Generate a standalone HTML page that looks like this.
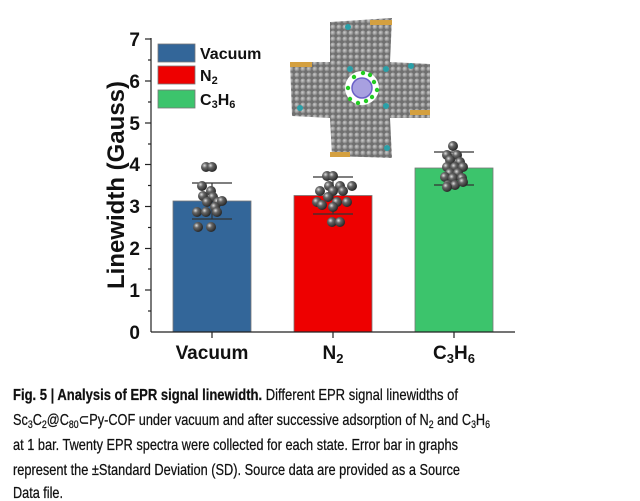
<!DOCTYPE html>
<html><head><meta charset="utf-8"><style>
html,body{margin:0;padding:0;background:#fff;}
svg{display:block;}
</style></head><body>
<svg width="640" height="501" viewBox="0 0 640 501" xmlns="http://www.w3.org/2000/svg" font-family="Liberation Sans, sans-serif">
<defs>
<radialGradient id="ball" cx="0.35" cy="0.35" r="0.7">
<stop offset="0" stop-color="#e0e0e0"/><stop offset="0.35" stop-color="#666"/><stop offset="1" stop-color="#222"/>
</radialGradient>
<radialGradient id="gb" cx="0.4" cy="0.4" r="0.7">
<stop offset="0" stop-color="#ccc"/><stop offset="1" stop-color="#707070"/>
</radialGradient>
<pattern id="atoms" width="6" height="6" patternUnits="userSpaceOnUse">
<rect width="6" height="6" fill="#6f6f6f"/><circle cx="3" cy="3" r="2.6" fill="url(#gb)"/>
</pattern>
</defs>
<g>
<polygon points="330,22 392,18 390,62 430,64 430,118 390,118 392,158 332,156 330,118 292,116 290,62 330,62" fill="url(#atoms)"/>
<rect x="290" y="62" width="22" height="5" fill="#d4a040"/>
<rect x="370" y="20" width="22" height="5" fill="#d4a040"/>
<rect x="410" y="110" width="20" height="5" fill="#d4a040"/>
<rect x="330" y="152" width="20" height="5" fill="#d4a040"/>
<circle cx="348" cy="27" r="3" fill="#2aa0a8"/><circle cx="411" cy="66" r="3" fill="#2aa0a8"/>
<circle cx="386" cy="69" r="3" fill="#2aa0a8"/><circle cx="350" cy="69" r="3" fill="#2aa0a8"/>
<circle cx="300" cy="108" r="3" fill="#2aa0a8"/><circle cx="386" cy="106" r="3" fill="#2aa0a8"/>
<circle cx="387" cy="148" r="3" fill="#2aa0a8"/>
<circle cx="362" cy="88" r="17" fill="#fff"/>
<circle cx="362" cy="88" r="10" fill="#a8a0e0" stroke="#6a60c8" stroke-width="1.5"/>
<g fill="#22cc22">
<circle cx="363" cy="73" r="2.2"/><circle cx="370" cy="75" r="2.2"/><circle cx="374" cy="82" r="2.2"/><circle cx="377" cy="90" r="2.2"/><circle cx="372" cy="97" r="2.2"/><circle cx="366" cy="101" r="2.2"/><circle cx="358" cy="103" r="2.2"/><circle cx="350" cy="99" r="2.2"/><circle cx="348" cy="88" r="2.2"/><circle cx="354" cy="77" r="2.2"/>
</g>
</g>
<rect x="173" y="201" width="78" height="131" fill="#336699" stroke="#777" stroke-width="0.8"/>
<rect x="294" y="195.5" width="78" height="136.5" fill="#ee0000" stroke="#777" stroke-width="0.8"/>
<rect x="415" y="168" width="78" height="164" fill="#3cc46c" stroke="#777" stroke-width="0.8"/>
<g stroke="#333" stroke-width="1.2">
<line x1="192" y1="183" x2="232" y2="183"/><line x1="192" y1="219" x2="232" y2="219"/><line x1="212" y1="183" x2="212" y2="219"/>
<line x1="313" y1="177" x2="353" y2="177"/><line x1="313" y1="214" x2="353" y2="214"/><line x1="333" y1="177" x2="333" y2="214"/>
<line x1="434" y1="152" x2="474" y2="152"/><line x1="434" y1="185" x2="474" y2="185"/><line x1="454" y1="152" x2="454" y2="185"/>
</g>
<g fill="url(#ball)">
<circle cx="206" cy="167" r="5"/><circle cx="212" cy="167" r="5"/><circle cx="202" cy="186" r="5"/><circle cx="211" cy="191" r="5"/><circle cx="203" cy="196" r="5"/><circle cx="213" cy="197" r="5"/><circle cx="207" cy="202" r="5"/><circle cx="218" cy="202" r="5"/><circle cx="215" cy="207" r="5"/><circle cx="197" cy="212" r="5"/><circle cx="206" cy="212" r="5"/><circle cx="217" cy="212" r="5"/><circle cx="198" cy="227" r="5"/><circle cx="211" cy="227" r="5"/><circle cx="222" cy="201" r="5"/>
<circle cx="327" cy="176" r="5"/><circle cx="333" cy="176" r="5"/><circle cx="329" cy="186" r="5"/><circle cx="340" cy="186" r="5"/><circle cx="352" cy="186" r="5"/><circle cx="320" cy="191" r="5"/><circle cx="333" cy="191" r="5"/><circle cx="343" cy="191" r="5"/><circle cx="328" cy="197" r="5"/><circle cx="317" cy="202" r="5"/><circle cx="337" cy="202" r="5"/><circle cx="347" cy="202" r="5"/><circle cx="333" cy="207" r="5"/><circle cx="332" cy="222" r="5"/><circle cx="340" cy="222" r="5"/><circle cx="322" cy="205" r="5"/>
<circle cx="453" cy="146" r="5"/><circle cx="447" cy="155" r="5"/><circle cx="457" cy="155" r="5"/><circle cx="450" cy="160" r="5"/><circle cx="460" cy="162" r="5"/><circle cx="447" cy="167" r="5"/><circle cx="455" cy="167" r="5"/><circle cx="463" cy="167" r="5"/><circle cx="450" cy="173" r="5"/><circle cx="458" cy="173" r="5"/><circle cx="445" cy="177" r="5"/><circle cx="453" cy="178" r="5"/><circle cx="462" cy="178" r="5"/><circle cx="448" cy="185" r="5"/><circle cx="455" cy="185" r="5"/><circle cx="463" cy="182" r="5"/><circle cx="447" cy="187" r="5"/>
</g>
<g stroke="#222" stroke-width="1.2" fill="none">
<line x1="151" y1="38" x2="151" y2="332"/>
<line x1="151" y1="332" x2="515" y2="332"/>
<line x1="145" y1="39" x2="151" y2="39"/><line x1="145" y1="81" x2="151" y2="81"/><line x1="145" y1="123" x2="151" y2="123"/><line x1="145" y1="164.5" x2="151" y2="164.5"/><line x1="145" y1="206.5" x2="151" y2="206.5"/><line x1="145" y1="248.5" x2="151" y2="248.5"/><line x1="145" y1="290" x2="151" y2="290"/>
<line x1="148" y1="60" x2="151" y2="60"/><line x1="148" y1="102" x2="151" y2="102"/><line x1="148" y1="144" x2="151" y2="144"/><line x1="148" y1="185.5" x2="151" y2="185.5"/><line x1="148" y1="227.5" x2="151" y2="227.5"/><line x1="148" y1="269" x2="151" y2="269"/><line x1="148" y1="311" x2="151" y2="311"/>
<line x1="212" y1="332" x2="212" y2="338"/><line x1="333" y1="332" x2="333" y2="338"/><line x1="454" y1="332" x2="454" y2="338"/>
</g>
<g font-size="19" font-weight="bold" fill="#111" text-anchor="end">
<text x="140" y="46">7</text><text x="140" y="88">6</text><text x="140" y="130">5</text><text x="140" y="171">4</text><text x="140" y="213">3</text><text x="140" y="255">2</text><text x="140" y="297">1</text><text x="140" y="339">0</text>
</g>
<g font-size="19" font-weight="bold" fill="#111" text-anchor="middle">
<text x="212" y="359">Vacuum</text>
<text x="333" y="359">N<tspan font-size="13" dy="4">2</tspan></text>
<text x="454" y="359">C<tspan font-size="13" dy="4">3</tspan><tspan dy="-4">H</tspan><tspan font-size="13" dy="4">6</tspan></text>
</g>
<text transform="translate(124,185) rotate(-90)" font-size="24" font-weight="bold" text-anchor="middle" fill="#111">Linewidth (Gauss)</text>
<rect x="158" y="44" width="37" height="18" fill="#336699" stroke="#777" stroke-width="0.8"/>
<rect x="158" y="66" width="37" height="18" fill="#ee0000" stroke="#777" stroke-width="0.8"/>
<rect x="158" y="90" width="37" height="18" fill="#3cc46c" stroke="#777" stroke-width="0.8"/>
<g font-size="16" font-weight="bold" fill="#111">
<text x="200" y="59">Vacuum</text>
<text x="200" y="81">N<tspan font-size="11" dy="3">2</tspan></text>
<text x="200" y="105">C<tspan font-size="11" dy="3">3</tspan><tspan dy="-3">H</tspan><tspan font-size="11" dy="3">6</tspan></text>
</g>
<g font-size="16" fill="#111" stroke="#111" stroke-width="0.25">
<text x="13" y="400" textLength="445" lengthAdjust="spacingAndGlyphs"><tspan font-weight="bold">Fig. 5 | Analysis of EPR signal linewidth.</tspan> Different EPR signal linewidths of</text>
<text x="13" y="425" textLength="477" lengthAdjust="spacingAndGlyphs">Sc<tspan font-size="11" dy="3">3</tspan><tspan dy="-3">C</tspan><tspan font-size="11" dy="3">2</tspan><tspan dy="-3">@C</tspan><tspan font-size="11" dy="3">80</tspan><tspan dy="-3">⊂Py-COF under vacuum and after successive adsorption of N</tspan><tspan font-size="11" dy="3">2</tspan><tspan dy="-3"> and C</tspan><tspan font-size="11" dy="3">3</tspan><tspan dy="-3">H</tspan><tspan font-size="11" dy="3">6</tspan></text>
<text x="13" y="450" textLength="445" lengthAdjust="spacingAndGlyphs">at 1 bar. Twenty EPR spectra were collected for each state. Error bar in graphs</text>
<text x="13" y="475" textLength="447" lengthAdjust="spacingAndGlyphs">represent the ±Standard Deviation (SD). Source data are provided as a Source</text>
<text x="13" y="498" textLength="50" lengthAdjust="spacingAndGlyphs">Data file.</text>
</g>
</svg>
</body></html>
